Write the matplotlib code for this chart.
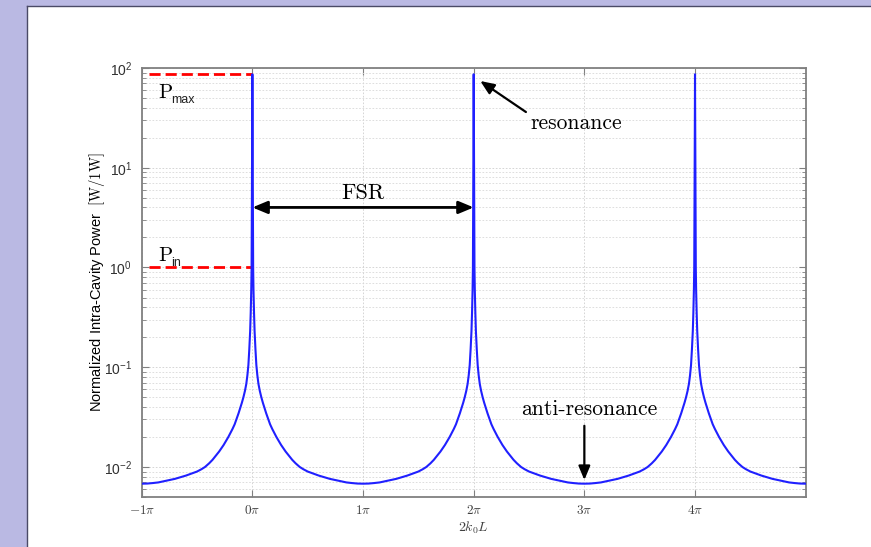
import numpy as np
import matplotlib
matplotlib.use("Agg")
import matplotlib.pyplot as plt
from matplotlib.patches import Rectangle
from matplotlib.lines import Line2D
from matplotlib.ticker import LogLocator, NullFormatter

plt.rcParams['mathtext.fontset'] = 'cm'
plt.rcParams['mathtext.rm'] = 'Liberation Sans'
plt.rcParams['font.family'] = ['Liberation Sans', 'DejaVu Sans']

# ---- data ----
resonance_centers_pi = [0, 2, 4]          # resonances at 0, 2pi, 4pi
# offset from a resonance (units of pi) and normalized intra-cavity power
offset_pi = [0.000, 0.002, 0.004, 0.007, 0.010, 0.015, 0.020, 0.028, 0.036,
             0.045, 0.055, 0.067, 0.081, 0.095, 0.110, 0.125, 0.142, 0.160,
             0.180, 0.200, 0.217, 0.240, 0.260, 0.280, 0.300, 0.330, 0.360,
             0.390, 0.428, 0.460, 0.500, 0.550, 0.600, 0.650, 0.700, 0.750,
             0.800, 0.850, 0.900, 0.950, 1.000]
power_profile = [86.5, 20.0, 5.0, 1.0, 0.60, 0.35, 0.23, 0.15, 0.105,
                 0.083, 0.068, 0.058, 0.050, 0.044, 0.039, 0.0345, 0.0305, 0.0268,
                 0.0240, 0.0217, 0.0200, 0.0181, 0.0166, 0.0154, 0.0143, 0.0130, 0.0118,
                 0.0109, 0.0100, 0.0095, 0.0090, 0.0086, 0.0082, 0.0079, 0.0076, 0.0074,
                 0.0072, 0.0070, 0.0069, 0.00682, 0.0068]
P_max = 86.5
P_in = 1.0
fsr_level = 4.0
x_ticks = [-1, 0, 1, 2, 3, 4]
x_tick_labels = [r'$-1\pi$', r'$0\pi$', r'$1\pi$', r'$2\pi$', r'$3\pi$', r'$4\pi$']
y_ticks = [1e-2, 1e-1, 1e0, 1e1, 1e2]
y_tick_labels = [r'$\mathrm{10^{-2}}$', r'$\mathrm{10^{-1}}$', r'$\mathrm{10^{0}}$',
                 r'$\mathrm{10^{1}}$', r'$\mathrm{10^{2}}$']

# assemble the curve from the read profile around each resonance
off = np.array(offset_pi)
pw = np.array(power_profile)
xs, ys = [], []
for c in resonance_centers_pi:
    xs.append(c - off[::-1]); ys.append(pw[::-1])
    xs.append(c + off); ys.append(pw)
x = np.concatenate(xs)
y = np.concatenate(ys)

fig = plt.figure(figsize=(8.71, 5.47), dpi=100)
fig.patch.set_facecolor('#bab9e3')
fx0 = 27 / 871
fy1 = 1 - 6 / 547
fig.add_artist(Rectangle((fx0, 0), 1 - fx0, fy1, transform=fig.transFigure,
                         facecolor='white', edgecolor='none', zorder=0))
fig.add_artist(Line2D([fx0, fx0], [0, fy1], transform=fig.transFigure, color='#4a4a66', lw=1))
fig.add_artist(Line2D([fx0, 1], [fy1, fy1], transform=fig.transFigure, color='#4a4a66', lw=1))

ax = fig.add_axes([0.1627, 0.0914, 0.7623, 0.7843])
ax.set_yscale('log')
ax.set_xlim(-1, 5)
ax.set_ylim(5e-3, 100)

ax.plot(x, y, color='#2020ff', lw=1.5, zorder=3)

ax.set_xticks(x_ticks)
ax.set_xticklabels(x_tick_labels, fontsize=9.5, color='#404040')
ax.set_yticks(y_ticks)
ax.set_yticklabels(y_tick_labels, fontsize=10, color='#303030', math_fontfamily='custom')
ax.yaxis.set_minor_locator(LogLocator(base=10, subs=np.arange(2, 10)))
ax.yaxis.set_minor_formatter(NullFormatter())

ax.tick_params(which='both', direction='in', top=True, right=True, color='#808080')
ax.tick_params(which='major', length=5, width=0.8)
ax.tick_params(which='minor', length=3, width=0.6)
ax.tick_params(axis='y', pad=7)
ax.tick_params(axis='x', pad=5)
for s in ax.spines.values():
    s.set_color('#808080')
    s.set_linewidth(1.3)

ax.grid(True, which='major', axis='both', color='#cfcfcf', ls=(0, (2, 2)), lw=0.6)
ax.grid(True, which='minor', axis='y', color='#d8d8d8', ls=(0, (2, 2)), lw=0.6)
ax.set_axisbelow(True)

ax.set_xlabel(r'$2k_0L$', fontsize=10, color='#404040', labelpad=2)
ax.set_ylabel(r'Normalized Intra-Cavity Power  $[\mathrm{W}/1\mathrm{W}]$', fontsize=10.5,
              labelpad=-2)

# red dashed reference lines
ax.plot([-0.93, 0], [P_max, P_max], color='red', lw=2, dashes=(4.0, 1.8), zorder=2)
ax.plot([-0.93, 0], [P_in, P_in], color='red', lw=2, dashes=(4.0, 1.8), zorder=2)

# P_max / P_in labels
for yv, sub in [(50.0, 'max'), (1.164, 'in')]:
    ax.text(-0.853, yv, 'P', fontfamily='cmr10', fontsize=15, va='baseline', ha='left')
    ax.annotate(sub, xy=(-0.853, yv), xytext=(9.2, -3.4), textcoords='offset points',
                fontsize=9, va='baseline', ha='left', color='#202020')

# FSR arrow
ax.annotate('', xy=(0, fsr_level), xytext=(2, fsr_level),
            arrowprops=dict(arrowstyle='<|-|>,head_length=0.6,head_width=0.25',
                            mutation_scale=15, lw=2, color='black',
                            shrinkA=0, shrinkB=0), zorder=4)
ax.text(1.0, 4.9, 'FSR', fontfamily='cmr10', fontsize=16, ha='center', va='baseline')

# resonance arrow
ax.annotate('', xy=(2.059, 74.1), xytext=(2.472, 36.2),
            arrowprops=dict(arrowstyle='-|>,head_length=0.6,head_width=0.25',
                            mutation_scale=14, lw=1.6, color='black',
                            shrinkA=0, shrinkB=0), zorder=4)
ax.text(2.511, 24.7, 'resonance', fontfamily='cmr10', fontsize=15.5, ha='left', va='baseline')

# anti-resonance arrow
ax.annotate('', xy=(3.0, 0.0074), xytext=(3.0, 0.0259),
            arrowprops=dict(arrowstyle='-|>,head_length=0.6,head_width=0.25',
                            mutation_scale=14, lw=1.6, color='black',
                            shrinkA=0, shrinkB=0), zorder=4)
ax.text(3.043, 0.0331, 'anti-resonance', fontfamily='cmr10', fontsize=15.5,
        ha='center', va='baseline')

fig.savefig('out.png', dpi=100, facecolor=fig.get_facecolor())
